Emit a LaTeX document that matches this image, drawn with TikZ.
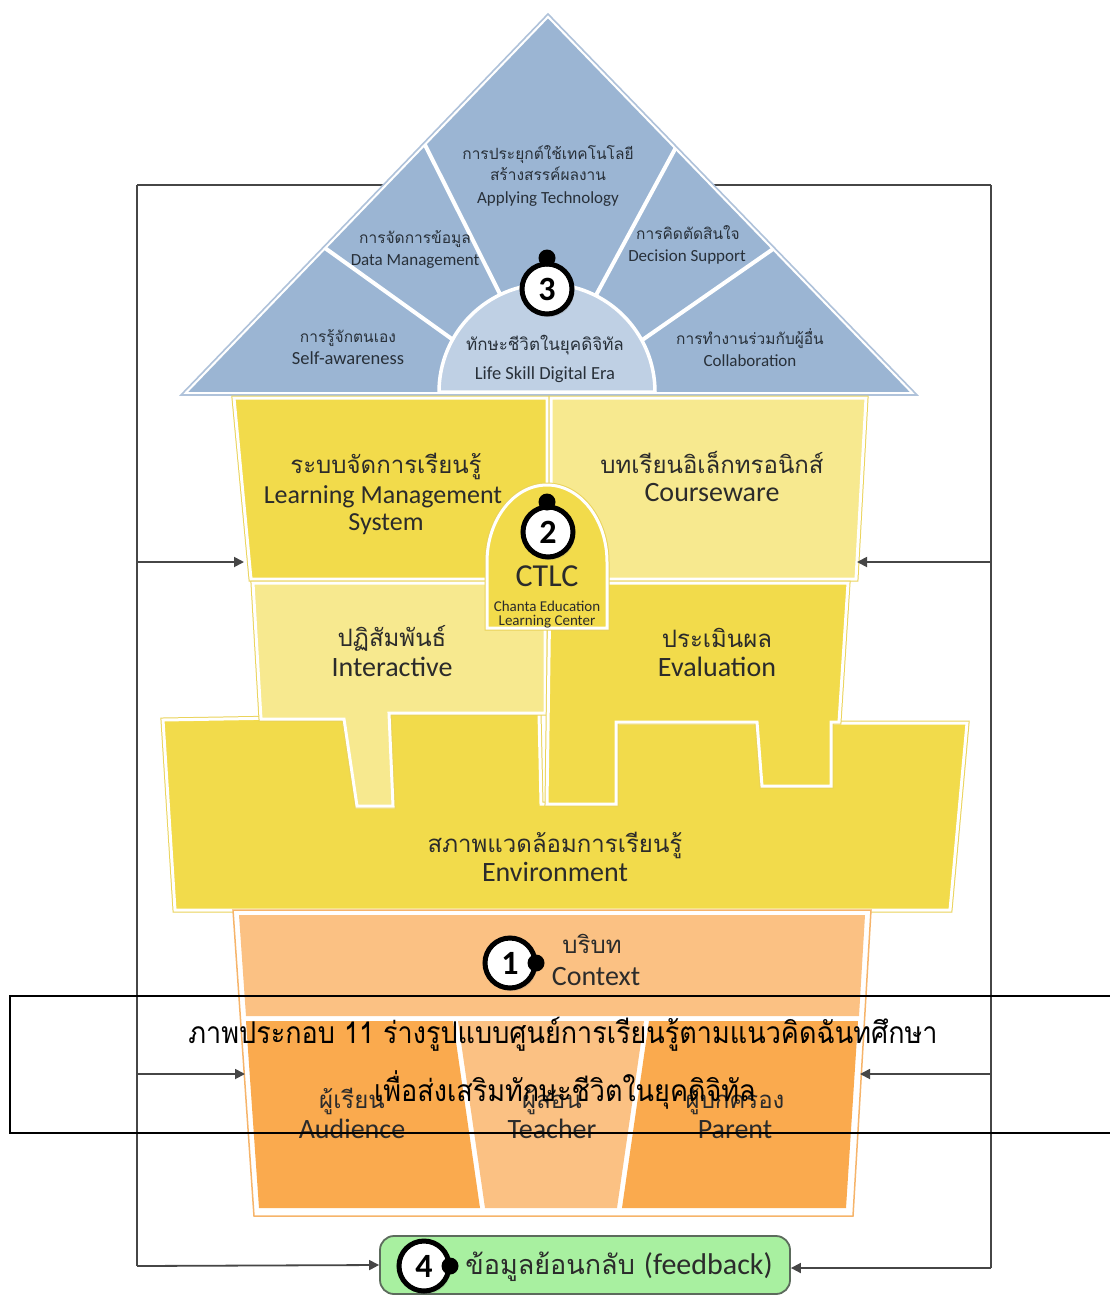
\documentclass[tikz,border=0pt]{standalone}
\usepackage{fontspec}
\setmainfont{Carlito}
\newfontfamily\thai[Script=Thai]{Loma}
\newfontfamily\thaicap[Script=Thai,FakeStretch=0.9]{Loma}
\usetikzlibrary{arrows.meta,shadows}

\definecolor{roof}{HTML}{9BB5D3}
\definecolor{roofhub}{HTML}{BFD0E4}
\definecolor{roofedge}{HTML}{AFC2DA}
\definecolor{rooftext}{HTML}{283039}
\definecolor{ydark}{HTML}{F2DB4B}
\definecolor{ylight}{HTML}{F7E98F}
\definecolor{yedge}{HTML}{EAD35A}
\definecolor{odark}{HTML}{FAAA4E}
\definecolor{olight}{HTML}{FBC183}
\definecolor{oedge}{HTML}{F6B46A}
\definecolor{fbgreen}{HTML}{A8F0A0}
\definecolor{fbedge}{HTML}{5C6B5C}
\definecolor{loopgray}{HTML}{464646}
\definecolor{bodytext}{HTML}{2B2B2B}

\tikzset{
  piece/.style={line width=3pt, draw=white, line join=miter,
    preaction={draw=#1, line width=5pt}},
  piece/.default=yedge,
  loopline/.style={draw=loopgray, line width=1.8pt},
  looparrow/.style={loopline, -{Triangle[length=10pt,width=10pt]}},
  lbl/.style={inner sep=0pt, anchor=mid, text=bodytext, yshift=-4pt},
  thR/.style={lbl, text=rooftext, font=\thai\fontsize{15.5}{18}\selectfont},
  enR/.style={lbl, text=rooftext, font=\fontsize{17}{20}\selectfont},
  thB/.style={lbl, font=\thai\fontsize{24}{28}\selectfont},
  enB/.style={lbl, font=\fontsize{28}{32}\selectfont},
  badge/.style={circle, draw=black, line width=5pt, fill=white,
    minimum size=50pt, inner sep=0pt, font=\bfseries\fontsize{34}{34}\selectfont,
    drop shadow={shadow xshift=2pt, shadow yshift=-3pt, opacity=0.25}},
  badgedot/.style={circle, fill=black, minimum size=17pt, inner sep=0pt},
  caption/.style={inner sep=0pt, anchor=mid, text=black, yshift=-6pt,
    font=\thaicap\fontsize{30}{34}\selectfont}
}

\begin{document}
\begin{tikzpicture}[x=1pt,y=-1pt]
\useasboundingbox (0,0) rectangle (1110,1295);
\fill[white] (0,0) rectangle (1110,1295);

% ---------- feedback loop frame ----------
\coordinate (loopTL) at (137,185);
\coordinate (loopTR) at (991,185);
\coordinate (loopBL) at (137,1266);
\coordinate (loopBR) at (991,1268);
\coordinate (loopL1) at (137,562);
\coordinate (loopL2) at (137,1074);
\coordinate (loopR1) at (991,562);
\coordinate (loopR2) at (991,1074);
\draw[loopline] (loopTL) -- (loopTR);
\draw[loopline] (loopTL) -- (loopBL);
\draw[loopline] (loopTR) -- (loopBR);

% ---------- roof ----------
\coordinate (apex) at (548,14);
\coordinate (roofL) at (181,395);
\coordinate (roofR) at (917,395);
\fill[roof] (apex) -- (roofR) -- (roofL) -- cycle;
\begin{scope}
  \clip (apex) -- (roofR) -- (roofL) -- cycle;
  \draw[white, line width=4pt] (415,125) -- (508,310);
  \draw[white, line width=4pt] (311,238) -- (470,352);
  \draw[white, line width=4pt] (681,138) -- (588,310);
  \draw[white, line width=4pt] (786,240) -- (625,352);
  \draw[white, line width=6pt, line join=miter] (apex) -- (roofR) -- (roofL) -- cycle;
\end{scope}
\draw[roofedge, line width=1.6pt, line join=miter] (apex) -- (roofR) -- (roofL) -- cycle;
\fill[roofhub, draw=white, line width=3.5pt] (439,392) arc[start angle=180, end angle=0, radius=108pt] -- cycle;

\node[thR] (appTH1) at (548,153) {การประยุกต์ใช้เทคโนโลยี};
\node[thR] (appTH2) at (548,174) {สร้างสรรค์ผลงาน};
\node[enR] (appEN)  at (548,197) {Applying Technology};
\node[thR] (dataTH) at (415,237) {การจัดการข้อมูล};
\node[enR] (dataEN) at (415,259) {Data Management};
\node[thR] (decTH)  at (688,233) {การคิดตัดสินใจ};
\node[enR] (decEN)  at (687,255) {Decision Support};
\node[thR] (selfTH) at (348,336) {การรู้จักตนเอง};
\node[enR, font=\fontsize{18.5}{20}\selectfont] (selfEN) at (348,358) {Self-awareness};
\node[thR, font=\thai\fontsize{17}{20}\selectfont] (hubTH) at (545,344) {ทักษะชีวิตในยุคดิจิทัล};
\node[enR, font=\fontsize{18.5}{20}\selectfont] (hubEN) at (545,373) {Life Skill Digital Era};
\node[thR] (colTH)  at (750,338) {การทำงานร่วมกับผู้อื่น};
\node[enR] (colEN)  at (750,360) {Collaboration};

% ---------- yellow body ----------
\path[piece, fill=ydark]
  (163,720) -- (343,717) -- (357,807) -- (393,807) -- (388,712) -- (539,713)
  -- (541,804) -- (616,804) -- (616,723) -- (757,723) -- (762,786) -- (831,786)
  -- (831,723) -- (967,723) -- (950,910) -- (175,910) -- cycle;
\path[piece, fill=ydark] (234,398) -- (547,398) -- (547,579) -- (251,579) -- cycle;
\path[piece, fill=ylight] (551,398) -- (866,398) -- (856,579) -- (551,579) -- cycle;
\path[piece, fill=ylight]
  (253,583) -- (545,583) -- (545,713) -- (389,713) -- (393,806) -- (357,806)
  -- (344,719) -- (261,719) -- cycle;
\path[piece, fill=ydark]
  (550,583) -- (848,583) -- (839,722) -- (831,722) -- (831,786) -- (762,786)
  -- (757,722) -- (616,722) -- (616,804) -- (547,804) -- cycle;
\path[piece, fill=ydark]
  (487,628) -- (487,562) arc[start angle=180, end angle=0, x radius=60pt, y radius=77pt]
  -- (607,628) -- cycle;

\node[thB] (lmsTH)  at (386,467) {ระบบจัดการเรียนรู้};
\node[enB, font=\fontsize{26}{30}\selectfont] (lmsEN1) at (383,497) {Learning Management};
\node[enB, font=\fontsize{26}{30}\selectfont] (lmsEN2) at (386,524) {System};
\node[thB] (cwTH)   at (712,467) {บทเรียนอิเล็กทรอนิกส์};
\node[enB] (cwEN)   at (712,495) {Courseware};
\node[enB, font=\fontsize{32}{34}\selectfont] (ctlc) at (547,580) {CTLC};
\node[lbl, font=\fontsize{15}{16}\selectfont] (ctlcS1) at (547,605) {Chanta Education};
\node[lbl, font=\fontsize{15}{16}\selectfont] (ctlcS2) at (547,619) {Learning Center};
\node[thB] (intTH)  at (392,640) {ปฏิสัมพันธ์};
\node[enB] (intEN)  at (392,670) {Interactive};
\node[thB] (evTH)   at (717,641) {ประเมินผล};
\node[enB] (evEN)   at (717,670) {Evaluation};
\node[thB] (envTH)  at (555,846) {สภาพแวดล้อมการเรียนรู้};
\node[enB] (envEN)  at (555,875) {Environment};

% ---------- orange base ----------
\path[fill=white, draw=oedge, line width=1.5pt] (233,910) -- (871,910) -- (853,1216) -- (254,1216) -- cycle;
\fill[olight] (239,915) -- (865,915) -- (859,1016) -- (246,1016) -- cycle;
\fill[odark]  (246,1021) -- (453,1021) -- (480,1208) -- (259,1208) -- cycle;
\fill[olight] (458,1021) -- (644,1021) -- (617,1208) -- (485,1208) -- cycle;
\fill[odark]  (649,1021) -- (858,1021) -- (846,1208) -- (622,1208) -- cycle;

\node[thB] (ctxTH) at (592,947) {บริบท};
\node[enB] (ctxEN) at (596,979) {Context};
\node[thB] (audTH) at (352,1102) {ผู้เรียน};
\node[enB] (audEN) at (352,1132) {Audience};
\node[thB] (teaTH) at (552,1102) {ผู้สอน};
\node[enB] (teaEN) at (552,1132) {Teacher};
\node[thB] (parTH) at (735,1102) {ผู้ปกครอง};
\node[enB] (parEN) at (735,1132) {Parent};

% ---------- feedback box ----------
\node[draw=fbedge, fill=fbgreen, line width=1.8pt, rounded corners=14pt,
      minimum width=410pt, minimum height=58pt, inner sep=0pt] (fb) at (585,1265) {};
\node[lbl, font=\thai\fontsize{27}{30}\selectfont] (fbTxt) at (619,1268)
  {ข้อมูลย้อนกลับ {\rmfamily\fontsize{30}{30}\selectfont (feedback)}};

% ---------- numbered badges ----------
\node[badge] (b3) at (547,289) {3};
\node[badgedot] (b3dot) at (547,258) {};
\node[badge] (b2) at (548,532) {2};
\node[badgedot] (b2dot) at (547,502) {};
\node[badge] (b1) at (510,963) {1};
\node[badgedot] (b1dot) at (536,963) {};
\node[badge] (b4) at (424,1266) {4};
\node[badgedot] (b4dot) at (450,1266) {};

% ---------- loop arrows ----------
\coordinate (inL1) at (244,562);
\coordinate (inL2) at (245,1074);
\coordinate (inR1) at (857,562);
\coordinate (inR2) at (860,1074);
\draw[looparrow] (loopL1) -- (inL1);
\draw[looparrow] (loopL2) -- (inL2);
\draw[looparrow] (loopBL) -- (fb.west);
\draw[looparrow] (loopR1) -- (inR1);
\draw[looparrow] (loopR2) -- (inR2);
\draw[looparrow] (loopBR) -- (fb.east |- loopBR);

% ---------- caption frame ----------
\draw[black, line width=1.3pt] (1110,996) -- (10,996) -- (10,1133) -- (1110,1133);
\node[caption] (cap1) at (563,1035) {ภาพประกอบ 11 ร่างรูปแบบศูนย์การเรียนรู้ตามแนวคิดฉันทศึกษา};
\node[caption] (cap2) at (565,1093) {เพื่อส่งเสริมทักษะชีวิตในยุคดิจิทัล};
\end{tikzpicture}
\end{document}
